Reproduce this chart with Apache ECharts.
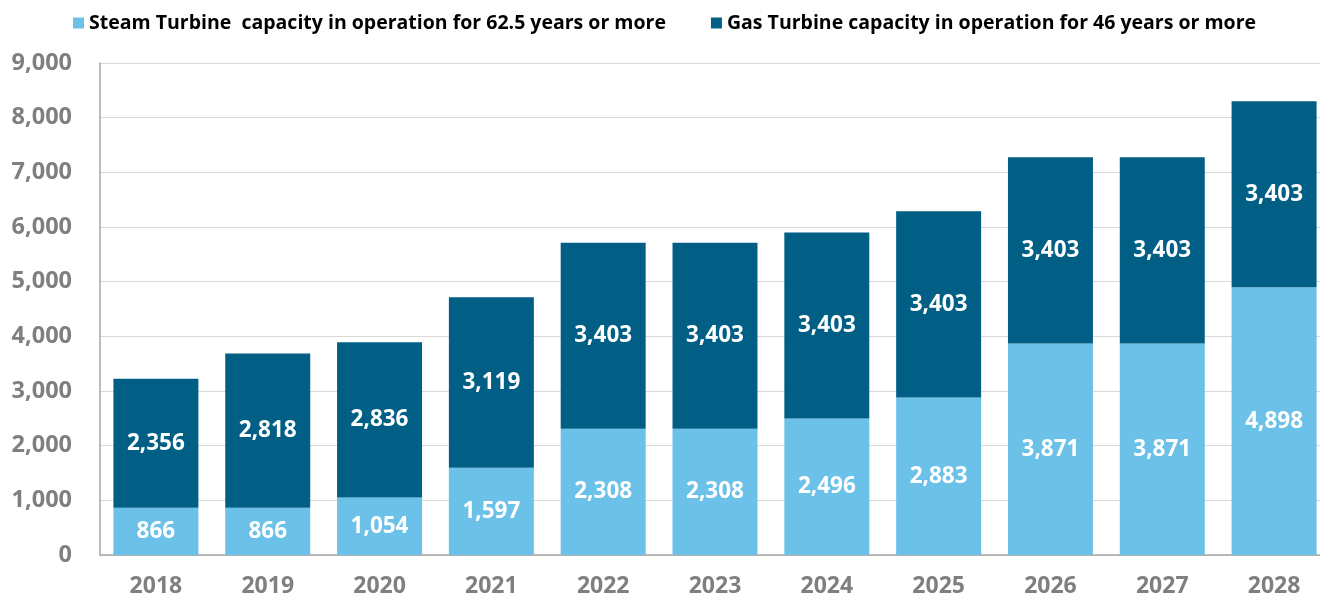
<!DOCTYPE html>
<html><head><meta charset="utf-8">
<script src="https://cdn.jsdelivr.net/npm/echarts@6/dist/echarts.min.js"></script>
<style>html,body{margin:0;padding:0;background:#fff}#c{width:1320px;height:598px}</style>
</head><body><div id="c"></div>
<script>
const categories = ['2018','2019','2020','2021','2022','2023','2024','2025','2026','2027','2028'];
const steamValues = [866, 866, 1054, 1597, 2308, 2308, 2496, 2883, 3871, 3871, 4898];
const gasValues = [2356, 2818, 2836, 3119, 3403, 3403, 3403, 3403, 3403, 3403, 3403];
const seriesNames = ['Steam Turbine  capacity in operation for 62.5 years or more', 'Gas Turbine capacity in operation for 46 years or more'];
const yTicks = [0, 1000, 2000, 3000, 4000, 5000, 6000, 7000, 8000, 9000];

const fmt = v => v.toLocaleString('en-US');
const font = "'Open Sans', 'Noto Sans', sans-serif";
const chart = echarts.init(document.getElementById('c'), null, {renderer: 'canvas'});
const label = {
  show: true, position: 'inside', color: '#fff', fontWeight: 'bold', fontSize: 22.5,
  fontFamily: font, formatter: p => fmt(p.value)
};
chart.setOption({
  animation: false,
  legend: {
    top: 8, left: 68, itemWidth: 11, itemHeight: 11, itemGap: 45, icon: 'rect',
    textStyle: {fontSize: 19.5, fontWeight: 'bold', color: '#000', fontFamily: font},
    data: seriesNames
  },
  grid: {left: 100, top: 63, right: -10, bottom: 43, containLabel: false, outerBoundsMode: 'none'},
  xAxis: {
    type: 'category', data: categories,
    axisLine: {lineStyle: {color: '#a6a6a6', width: 1.5}},
    axisTick: {show: false},
    axisLabel: {color: '#7f7f7f', fontWeight: 'bold', fontSize: 23, fontFamily: font, margin: 20}
  },
  yAxis: {
    type: 'value', min: 0, max: 9000, interval: 1000,
    axisLine: {show: true, lineStyle: {color: '#a6a6a6', width: 1.5}},
    axisTick: {show: false},
    splitLine: {lineStyle: {color: '#d9d9d9', width: 1}},
    axisLabel: {color: '#7f7f7f', fontWeight: 'bold', fontSize: 23.5, fontFamily: font, margin: 28,
      formatter: v => yTicks.includes(v) ? fmt(v) : ''}
  },
  series: [
    {name: seriesNames[0], type: 'bar', stack: 's', data: steamValues, barWidth: '76%',
     itemStyle: {color: '#6cc1e8'}, label},
    {name: seriesNames[1], type: 'bar', stack: 's', data: gasValues, barWidth: '76%',
     itemStyle: {color: '#015f86'}, label}
  ]
});
</script></body></html>
